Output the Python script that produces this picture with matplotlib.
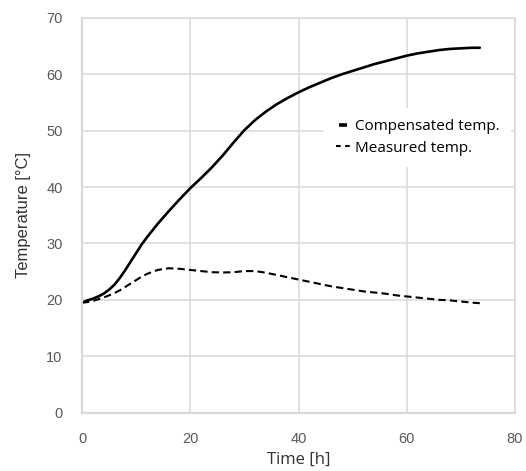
import matplotlib
matplotlib.use("Agg")
import matplotlib.pyplot as plt
from matplotlib.lines import Line2D

# Temperature over time
time_h = [0, 1, 2, 3, 4, 5, 6, 7, 8, 9, 10, 11, 12, 14, 16, 18, 20, 22, 24, 26, 28, 30,
          32, 34, 36, 38, 40, 42, 44, 46, 48, 50, 52, 54, 56, 58, 60, 62, 64, 66, 68,
          70, 72, 73.5]
compensated = [19.5, 19.9, 20.2, 20.6, 21.1, 21.8, 22.7, 23.9, 25.3, 26.8, 28.3, 29.8,
               31.1, 33.5, 35.7, 37.8, 39.8, 41.6, 43.5, 45.6, 47.9, 50.1, 51.9, 53.4,
               54.7, 55.8, 56.8, 57.7, 58.5, 59.3, 60.0, 60.6, 61.2, 61.8, 62.3, 62.8,
               63.3, 63.7, 64.0, 64.3, 64.5, 64.6, 64.7, 64.7]
measured = [19.5, 19.6, 19.8, 20.1, 20.4, 20.8, 21.2, 21.7, 22.3, 22.9, 23.5, 24.1,
            24.6, 25.3, 25.6, 25.5, 25.3, 25.1, 24.9, 24.85, 24.9, 25.1, 25.1, 24.8,
            24.4, 24.0, 23.6, 23.2, 22.8, 22.4, 22.1, 21.8, 21.5, 21.3, 21.1, 20.8,
            20.6, 20.4, 20.2, 20.0, 19.9, 19.7, 19.5, 19.4]

x_ticks = [0, 20, 40, 60, 80]
y_ticks = [0, 10, 20, 30, 40, 50, 60, 70]

grid_col = '#d9d9d9'
text_col = '#595959'

fig = plt.figure(figsize=(5.26, 4.71), dpi=100)
ax = fig.add_axes([0.156, 0.124, 0.823, 0.838])

ax.plot(time_h, compensated, color='black', lw=1.9, solid_capstyle='round')
ax.plot(time_h, measured, color='black', lw=1.5, dashes=(3.5, 2))

ax.set_xlim(0, 80)
ax.set_ylim(0, 70)
ax.set_xticks(x_ticks)
ax.set_yticks(y_ticks)
ax.grid(True, color=grid_col, lw=1.1)
ax.set_axisbelow(True)
for s in ax.spines.values():
    s.set_color(grid_col)
    s.set_linewidth(1.1)
ax.spines['left'].set_linewidth(1.6)
ax.spines['bottom'].set_linewidth(1.6)
ax.tick_params(length=0, labelsize=10.5, labelcolor=text_col, pad=14)
for lab in ax.get_xticklabels() + ax.get_yticklabels():
    lab.set_family('Liberation Sans')

ax.set_xlabel('Time [h]', fontsize=12, family='Open Sans', color='#333333', labelpad=4)
ax.set_ylabel('Temperature [°C]', fontsize=12, family='Liberation Sans', color='#333333',
              labelpad=11)

# Excel-style legend: tiny bar for the solid line, two dashes for the dashed one
handles = [Line2D([], [], color='black', marker='_', ms=6, mew=2.6, ls='none'),
           Line2D([], [], color='black', lw=1.5, dashes=(2.2, 2.2))]
labels = ['Compensated temp.', 'Measured temp.']
leg = ax.legend(handles, labels, loc='upper left', bbox_to_anchor=(0.559, 0.772),
                borderaxespad=0, frameon=True, fancybox=False, framealpha=1,
                edgecolor='white', prop={'family': 'Open Sans', 'size': 11},
                handlelength=1.0, handletextpad=0.25, labelspacing=0.42,
                borderpad=0.75)
leg.get_frame().set_linewidth(0)

fig.savefig('out.png', dpi=100)
